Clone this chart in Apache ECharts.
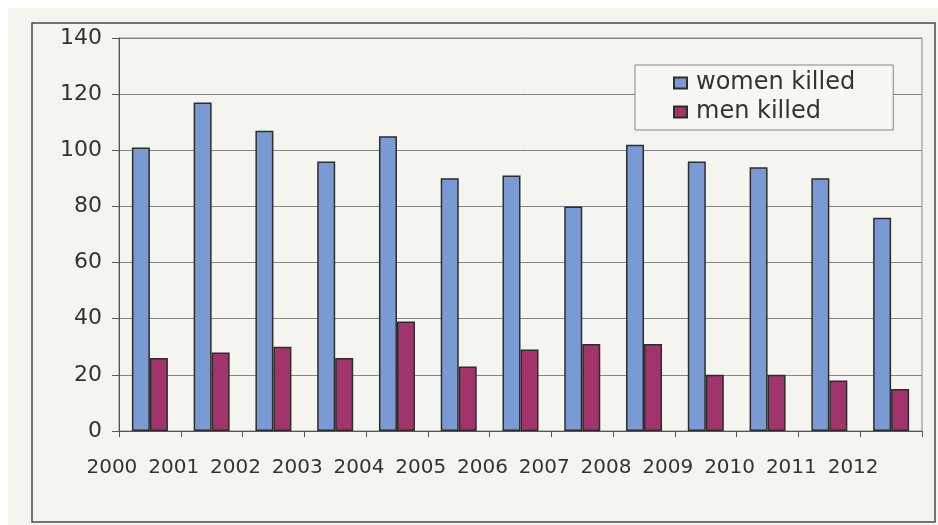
<!DOCTYPE html>
<html>
<head>
<meta charset="utf-8">
<title>women killed / men killed 2000–2012</title>
<script src="https://cdn.jsdelivr.net/npm/echarts@6/dist/echarts.min.js"></script>
<style>
  html, body { margin: 0; padding: 0; background: #ffffff; }
  #chart { width: 938px; height: 525px; }
</style>
</head>
<body>
<div id="chart"></div>
<script>
// Years shown on the category axis
const years = ['2000', '2001', '2002', '2003', '2004', '2005', '2006',
               '2007', '2008', '2009', '2010', '2011', '2012'];
// Yearly counts
const womenKilled = [101, 117, 107, 96, 105, 90, 91, 80, 102, 96, 94, 90, 76];
const menKilled   = [26, 28, 30, 26, 39, 23, 29, 31, 31, 20, 20, 18, 15];
// Value axis range
const yMin = 0;
const yMax = 140;
const yStep = 20;

const FONT = 'DejaVu Sans';
const TEXT = '#333333';

const chart = echarts.init(document.getElementById('chart'), null, { renderer: 'canvas' });

chart.setOption({
  animation: false,
  backgroundColor: '#ffffff',
  graphic: [
    {
      type: 'rect', z: -10, silent: true,
      shape: { x: 8, y: 8, width: 930, height: 517 },
      style: { fill: '#f5f5f0' }
    },
    {
      type: 'rect', z: -9, silent: true,
      shape: { x: 32, y: 23, width: 903, height: 499 },
      style: { fill: 'none', stroke: '#4a4a4a', lineWidth: 1.5 }
    }
  ],
  grid: {
    left: 119, top: 38, right: 16, bottom: 94,
    show: true,
    borderColor: '#858585',
    borderWidth: 1,
    backgroundColor: 'transparent'
  },
  legend: {
    left: 635, top: 65,
    orient: 'vertical',
    icon: 'rect',
    itemWidth: 13, itemHeight: 11,
    itemGap: 5,
    padding: [6, 38, 6, 38],
    backgroundColor: '#f7f7f3',
    borderColor: '#858585',
    borderWidth: 1,
    textStyle: { fontFamily: FONT, fontSize: 24, color: TEXT, padding: [0, 0, 0, 4] },
    data: ['women killed', 'men killed']
  },
  xAxis: {
    type: 'category',
    data: years,
    boundaryGap: true,
    axisLine: { lineStyle: { color: '#555', width: 1 } },
    axisTick: { show: true, interval: 0, length: 6, lineStyle: { color: '#555' } },
    axisLabel: {
      interval: 0,
      margin: 27,
      fontFamily: FONT, fontSize: 20, color: TEXT,
      align: 'center',
      padding: [0, 76, 0, 0]
    },
    splitLine: { show: false }
  },
  yAxis: {
    type: 'value',
    min: yMin, max: yMax, interval: yStep,
    axisLine: { show: true, lineStyle: { color: '#555', width: 1 } },
    axisTick: { show: true, length: 7, lineStyle: { color: '#555' } },
    axisLabel: { margin: 17, fontFamily: FONT, fontSize: 22, color: TEXT },
    splitLine: { show: true, lineStyle: { color: '#858585', width: 1 } }
  },
  series: [
    {
      name: 'women killed',
      type: 'bar',
      data: womenKilled,
      barWidth: 18,
      barGap: '0%',
      itemStyle: { color: '#7a9ad3', borderColor: '#2d2d2d', borderWidth: 1.5 }
    },
    {
      name: 'men killed',
      type: 'bar',
      data: menKilled,
      barWidth: 18,
      barGap: '0%',
      itemStyle: { color: '#a0346b', borderColor: '#2d2d2d', borderWidth: 1.5 }
    }
  ]
});
</script>
</body>
</html>
